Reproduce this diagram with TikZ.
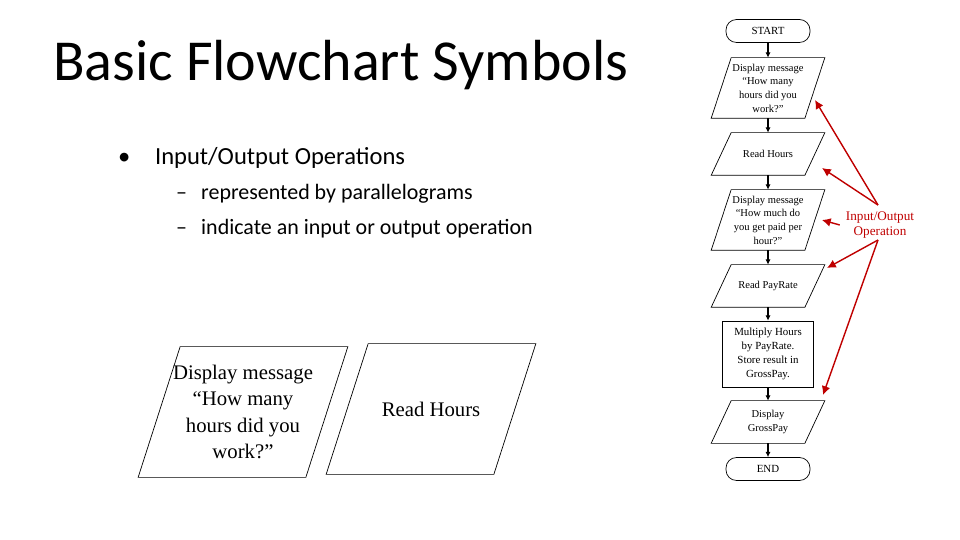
\documentclass[tikz,border=0pt]{standalone}
\usepackage{fontspec}
\setmainfont{Liberation Serif}
\newfontfamily\slidefont{Carlito}
\usetikzlibrary{arrows.meta}
\tikzset{
    every node/.style={align=center,},
    io/.style={rectangle,inner sep=1pt,minimum width=93*0.02cm,font=\fontsize{6}{7.8}\selectfont},
    bigio/.style={rectangle,inner sep=1pt,minimum width=167*0.02cm,minimum height=130*0.02cm,font=\fontsize{11.8}{15}\selectfont},
    startstop/.style={draw,rectangle,rounded corners=6pt,minimum width=84*0.02cm,minimum height=23*0.02cm,font=\fontsize{6.2}{8}\selectfont},
    process/.style={draw,rectangle,minimum width=91*0.02cm,minimum height=66*0.02cm,font=\fontsize{6.2}{8}\selectfont},
    flow/.style={-{Latex[length=3pt,width=3pt]},line width=1.2pt},
    note/.style={-{Latex[length=5pt,width=5pt]},red!75!black,line width=0.8pt},
}
\begin{document}
\begin{tikzpicture}[x=0.02cm,y=-0.02cm]
    \useasboundingbox (0,0) rectangle (960,540);
    % slide text
    \node[font=\slidefont\fontsize{33}{40}\selectfont,anchor=west] (title) at (47,65) {Basic Flowchart Symbols};
    \node[font=\slidefont\fontsize{14}{17}\selectfont,anchor=west] (bullet) at (112,158) {\textbullet\hspace{14pt}Input/Output Operations};
    \node[font=\slidefont\fontsize{12.5}{15}\selectfont,anchor=west] (sub1) at (170,194) {\textendash\hspace{8pt}represented by parallelograms};
    \node[font=\slidefont\fontsize{12.5}{15}\selectfont,anchor=west] (sub2) at (170,229) {\textendash\hspace{8pt}indicate an input or output operation};

    % large examples
    \node[bigio] (bigmsg) at (243,412) {Display message\\``How many\\hours did you\\work?''};
    \node[bigio] (bigread) at (431,409) {Read Hours};

    % flowchart
    \node[startstop] (start) at (768,31) {START};
    \node[io,minimum height=60*0.02cm] (msg1) at (768,88) {Display message\\``How many\\hours did you\\work?''};
    \node[io,minimum height=42*0.02cm] (hours) at (768,154) {Read Hours};
    \node[io,minimum height=60*0.02cm] (msg2) at (768,220) {Display message\\``How much do\\you get paid per\\hour?''};
    \node[io,minimum height=42*0.02cm] (rate) at (768,286) {Read PayRate};
    \node[process] (mult) at (768,354) {Multiply Hours\\by PayRate.\\Store result in\\GrossPay.};
    \node[io,minimum height=42*0.02cm] (gross) at (768,422) {Display\\GrossPay};
    \node[startstop] (end) at (768,469) {END};

    % parallelogram outlines
    \foreach \n/\s in {bigmsg/21,bigread/21,msg1/10,hours/10,msg2/10,rate/10,gross/10}
        \draw ([xshift=\s*0.02cm]\n.north west) -- ([xshift=\s*0.02cm]\n.north east)
            -- ([xshift=-\s*0.02cm]\n.south east) -- ([xshift=-\s*0.02cm]\n.south west) -- cycle;

    \draw[flow] (start) -- (msg1);
    \draw[flow] (msg1) -- (hours);
    \draw[flow] (hours) -- (msg2);
    \draw[flow] (msg2) -- (rate);
    \draw[flow] (rate) -- (mult);
    \draw[flow] (mult) -- (gross);
    \draw[flow] (gross) -- (end);

    % annotation
    \node[text=red!75!black,font=\fontsize{7.5}{9}\selectfont] (iolabel) at (880,225) {Input/Output\\Operation};
    \coordinate (up) at (878,205);
    \coordinate (down) at (878,240);
    \draw[note] (up) -- (815,100);
    \draw[note] (up) -- (822,168);
    \draw[note] (iolabel.west) -- ([xshift=4pt]msg2.east);
    \draw[note] (down) -- (827,268);
    \draw[note] (down) -- (823,395);
\end{tikzpicture}
\end{document}
